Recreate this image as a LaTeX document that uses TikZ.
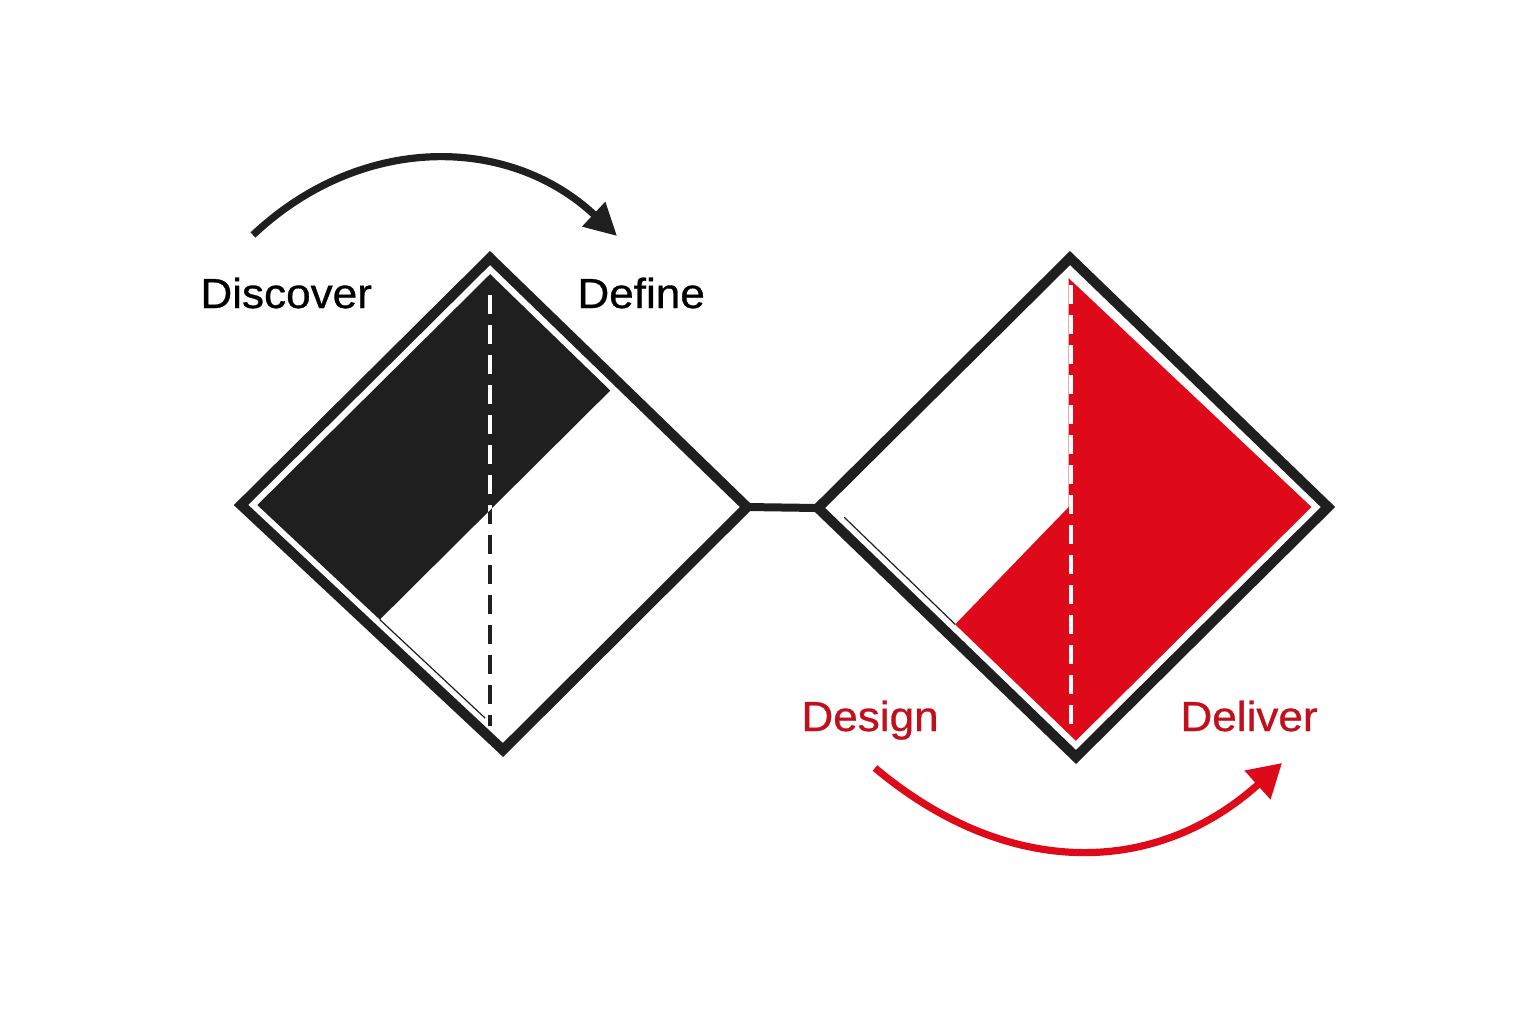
\documentclass[tikz,border=0pt]{standalone}
\usepackage{fontspec}
\setmainfont{Liberation Sans}[FakeStretch=1.05,FakeBold=0.7]
\usetikzlibrary{calc,arrows.meta}
\definecolor{ink}{HTML}{1F1F1F}
\definecolor{vred}{HTML}{DE0A1A}
\definecolor{tred}{HTML}{C20F1C}
\begin{document}
\begin{tikzpicture}[x=0.5pt,y=-0.5pt,
  outline/.style={draw=ink,line width=5pt,line join=miter},
  joiner/.style={draw=ink,line width=4pt},
  hair/.style={draw=ink,line width=0.6pt},
  dashline/.style={line width=2pt,dash pattern=on 9.5pt off 5.5pt},
  flowarc/.style={line width=3.6pt},
  lbl/.style={anchor=base west,inner sep=0pt,font=\fontsize{21pt}{25pt}\selectfont}]
\useasboundingbox (0,0) rectangle (1536,1024);
\fill[white] (0,0) rectangle (1536,1024);

% ---------- left diamond ----------
\coordinate (lT) at (490,258);
\coordinate (lL) at (241,505);
\coordinate (lB) at (503,750);
\coordinate (lR) at (747,507);
\coordinate (lC) at (492,506);
\coordinate (lTi) at ($(lC)!0.935!(lT)$);
\coordinate (lLi) at ($(lC)!0.935!(lL)$);
\coordinate (lBi) at ($(lC)!0.935!(lB)$);
\coordinate (lRi) at ($(lC)!0.935!(lR)$);
\coordinate (lM1) at ($(lTi)!0.5!(lRi)$);
\coordinate (lM2) at ($(lLi)!0.5!(lBi)$);
\fill[ink] (lTi) -- (lM1) -- (lM2) -- (lLi) -- cycle;
\draw[hair] (lM2) -- ($(lLi)!0.93!(lBi)$);
\coordinate (lD1) at (490,295);
\coordinate (lD2) at (490,726);
\draw[ink,dashline] (lD1) -- (lD2);
\begin{scope}
  \clip (lTi) -- (lM1) -- (lM2) -- (lLi) -- cycle;
  \draw[white,dashline] (lD1) -- (lD2);
\end{scope}
\draw[outline] (lT) -- (lR) -- (lB) -- (lL) -- cycle;

% ---------- right diamond ----------
\coordinate (rT) at (1070,258);
\coordinate (rL) at (818,508);
\coordinate (rB) at (1076,757);
\coordinate (rR) at (1328,507);
\coordinate (rC) at (1073,507);
\coordinate (rTi) at ($(rC)!0.935!(rT)$);
\coordinate (rLi) at ($(rC)!0.935!(rL)$);
\coordinate (rBi) at ($(rC)!0.935!(rB)$);
\coordinate (rRi) at ($(rC)!0.935!(rR)$);
\coordinate (rM2) at ($(rLi)!0.5!(rBi)$);
\coordinate (rCv) at ($(rTi|-rC)+(-1.5,0)$);
\fill[vred] ($(rTi)+(-1.5,4)$) -- (rRi) -- (rBi) -- (rM2) -- (rCv) -- cycle;
\draw[hair] ($(rLi)!0.04!(rBi)$) -- (rM2);
\coordinate (rD1) at (1071,285);
\coordinate (rD2) at (1071,732);
\draw[white,dashline] (rD1) -- (rD2);
\draw[outline] (rT) -- (rR) -- (rB) -- (rL) -- cycle;

% ---------- connector ----------
\draw[joiner] (lR) -- (rL);

% ---------- arcs ----------
\coordinate (a1) at (253,235);
\coordinate (a2) at (617,236);
\draw[ink,flowarc,-{Triangle[length=16pt,width=16pt]}] (a1) .. controls (360,134) and (508,134) .. (a2);
\coordinate (b1) at (875,768);
\coordinate (b2) at (1282,763);
\draw[vred,flowarc,-{Triangle[length=16.5pt,width=18.5pt]}] (b1) .. controls (1006,878) and (1154,878) .. (b2);

% ---------- labels ----------
\node[lbl,text=black] (discover) at (200,308) {Discover};
\node[lbl,text=black] (define) at (577,308) {Define};
\node[lbl,text=tred] (design) at (801,731) {Design};
\node[lbl,text=tred] (deliver) at (1180,731) {Deliver};
\end{tikzpicture}
\end{document}
